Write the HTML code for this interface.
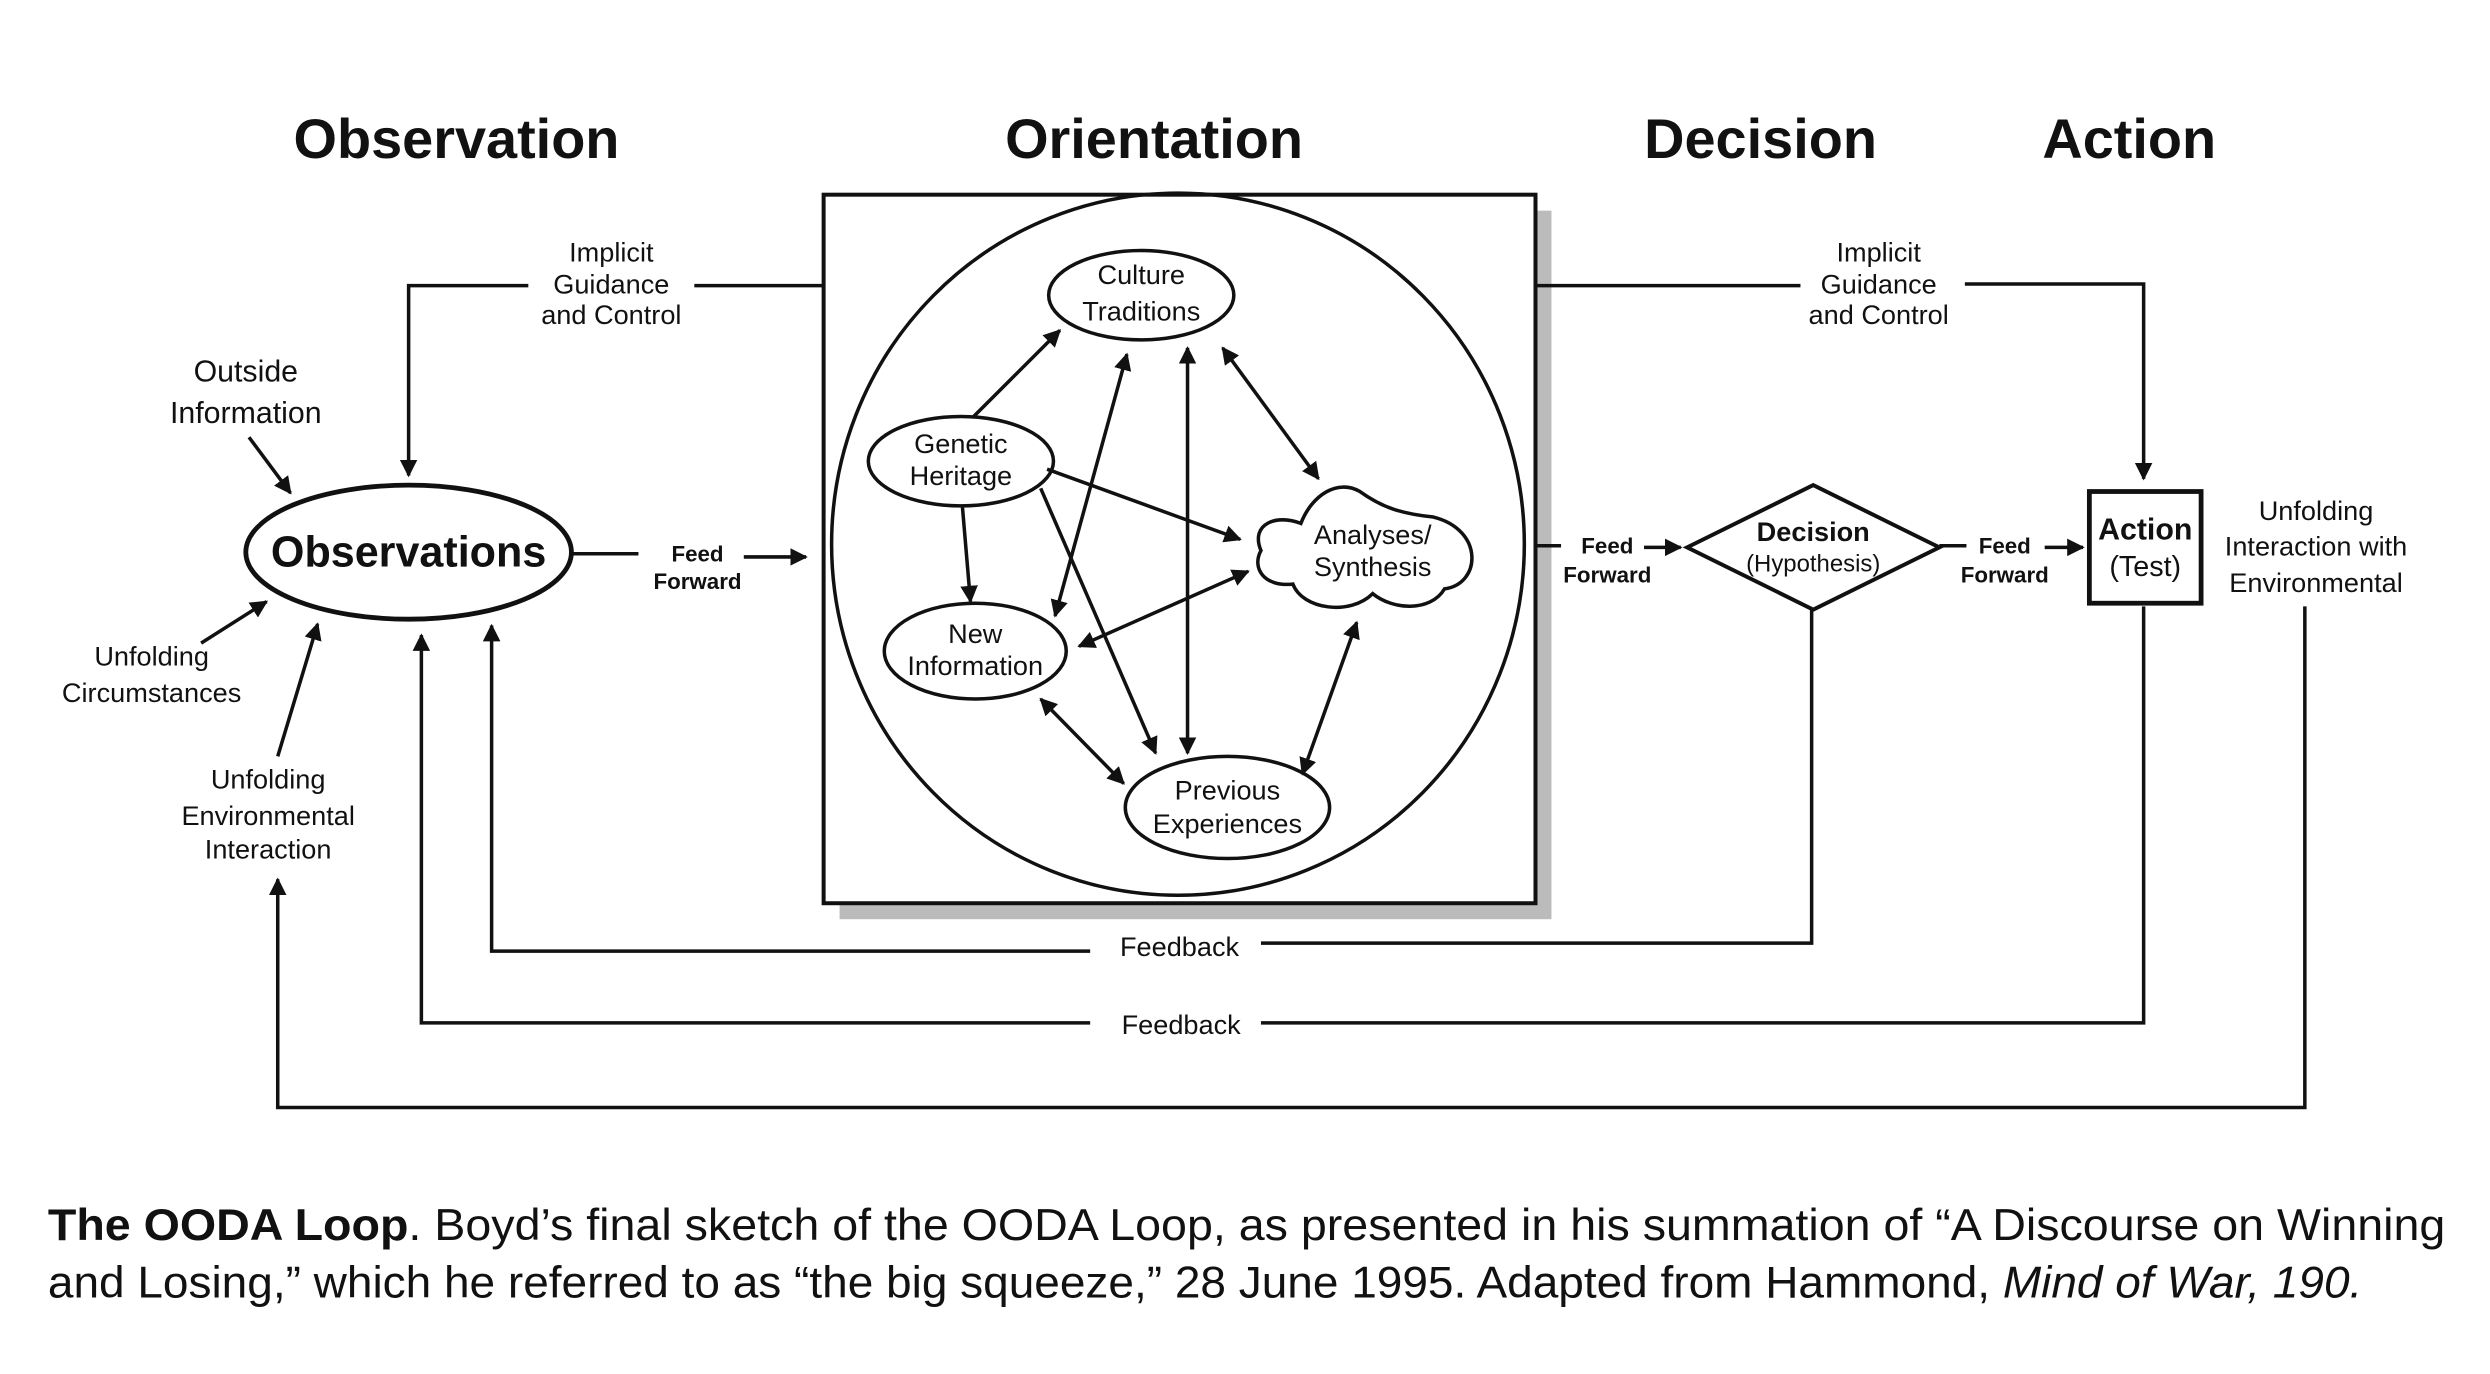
<!DOCTYPE html>
<html><head><meta charset="utf-8"><style>
html,body{margin:0;padding:0;background:#fff;}
svg{display:block;}
text{font-family:"Liberation Sans",sans-serif;fill:#111;}
</style></head><body>
<svg width="2490" height="1374" viewBox="0 0 1560 861" preserveAspectRatio="none" xmlns="http://www.w3.org/2000/svg">
<defs>
<marker id="a" viewBox="0 0 10 10" refX="9" refY="5" markerWidth="5" markerHeight="5" orient="auto-start-reverse" markerUnits="strokeWidth"><path d="M0,0 L10,5 L0,10 Z" fill="#111"/></marker>
</defs>
<g font-weight="bold" font-size="35" text-anchor="middle">
<text x="286" y="99">Observation</text>
<text x="723" y="99">Orientation</text>
<text x="1103" y="99">Decision</text>
<text x="1334" y="99">Action</text>
</g>
<!-- orientation box -->
<rect x="526" y="132" width="446" height="444" fill="#bbb"/>
<rect x="516" y="122" width="446" height="444" fill="#fff" stroke="#111" stroke-width="2.5"/>
<ellipse cx="738" cy="341" rx="217" ry="220" fill="none" stroke="#111" stroke-width="2.2"/>
<g fill="#fff" stroke="#111" stroke-width="2.2">
<ellipse cx="715" cy="185" rx="58" ry="28"/>
<ellipse cx="602" cy="289" rx="58" ry="28"/>
<ellipse cx="611" cy="408" rx="57" ry="30"/>
<ellipse cx="769" cy="506" rx="64" ry="32"/>
<path d="M790,345 C783,328 800,322 815,328 C822,310 838,300 852,308 C866,318 878,322 898,324 C930,332 928,366 905,369 C896,384 872,382 860,372 C846,386 816,382 810,366 C792,368 784,356 790,345 Z"/>
</g>
<g font-size="17" text-anchor="middle">
<text x="715" y="178">Culture</text><text x="715" y="201">Traditions</text>
<text x="602" y="284">Genetic</text><text x="602" y="304">Heritage</text>
<text x="611" y="403">New</text><text x="611" y="423">Information</text>
<text x="769" y="501">Previous</text><text x="769" y="522">Experiences</text>
<text x="860" y="341">Analyses/</text><text x="860" y="361">Synthesis</text>
</g>
<g stroke="#111" stroke-width="2.2" fill="none" marker-end="url(#a)">
<line x1="610" y1="261" x2="664" y2="207"/>
<line x1="603" y1="318" x2="608" y2="377"/>
<line x1="656" y1="294" x2="777" y2="338"/>
<line x1="652" y1="306" x2="724" y2="472"/>
<line x1="706" y1="222" x2="661" y2="386" marker-start="url(#a)"/>
<line x1="744" y1="218" x2="744" y2="472" marker-start="url(#a)"/>
<line x1="766" y1="218" x2="826" y2="300" marker-start="url(#a)"/>
<line x1="676" y1="405" x2="782" y2="358" marker-start="url(#a)"/>
<line x1="652" y1="438" x2="704" y2="491" marker-start="url(#a)"/>
<line x1="816" y1="485" x2="850" y2="390" marker-start="url(#a)"/>
</g>
<!-- left side -->
<ellipse cx="256" cy="346" rx="102" ry="42" fill="#fff" stroke="#111" stroke-width="3"/>
<text x="256" y="355" font-size="27" font-weight="bold" text-anchor="middle">Observations</text>
<g stroke="#111" stroke-width="2.2" fill="none">
<polyline points="516,179 435,179"/>
<polyline points="331,179 256,179 256,298" marker-end="url(#a)"/>
<line x1="156" y1="274" x2="182" y2="309" marker-end="url(#a)"/>
<line x1="126" y1="403" x2="167" y2="377" marker-end="url(#a)"/>
<line x1="174" y1="474" x2="199" y2="391" marker-end="url(#a)"/>
<line x1="358" y1="347" x2="400" y2="347"/>
<line x1="466" y1="349" x2="505" y2="349" marker-end="url(#a)"/>
<polyline points="1135,382 1135,591 790,591"/>
<polyline points="683,596 308,596 308,392" marker-end="url(#a)"/>
<polyline points="1343,380 1343,641 790,641"/>
<polyline points="683,641 264,641 264,398" marker-end="url(#a)"/>
<polyline points="1444,380 1444,694 174,694 174,551" marker-end="url(#a)"/>
<polyline points="962,179 1128,179"/>
<polyline points="1231,178 1343,178 1343,300" marker-end="url(#a)"/>
<line x1="962" y1="342" x2="978" y2="342"/>
<line x1="1030" y1="343" x2="1053" y2="343" marker-end="url(#a)"/>
<line x1="1215" y1="342" x2="1232" y2="342"/>
<line x1="1281" y1="343" x2="1305" y2="343" marker-end="url(#a)"/>
</g>
<g font-size="17" text-anchor="middle">
<text x="383" y="164">Implicit</text><text x="383" y="184">Guidance</text><text x="383" y="203">and Control</text>
<text x="1177" y="164">Implicit</text><text x="1177" y="184">Guidance</text><text x="1177" y="203">and Control</text>
<text x="154" y="239" font-size="19">Outside</text><text x="154" y="265" font-size="19">Information</text>
<text x="95" y="417">Unfolding</text><text x="95" y="440">Circumstances</text>
<text x="168" y="494">Unfolding</text><text x="168" y="517">Environmental</text><text x="168" y="538">Interaction</text>
<text x="739" y="599">Feedback</text>
<text x="740" y="648">Feedback</text>
<text x="1451" y="326">Unfolding</text><text x="1451" y="348">Interaction with</text><text x="1451" y="371">Environmental</text>
</g>
<g font-size="14" font-weight="bold" text-anchor="middle">
<text x="437" y="352">Feed</text><text x="437" y="369">Forward</text>
<text x="1007" y="347">Feed</text><text x="1007" y="365">Forward</text>
<text x="1256" y="347">Feed</text><text x="1256" y="365">Forward</text>
</g>
<polygon points="1057,343 1136,304 1215,343 1136,382" fill="#fff" stroke="#111" stroke-width="2.5"/>
<text x="1136" y="339" font-size="17" font-weight="bold" text-anchor="middle">Decision</text>
<text x="1136" y="358" font-size="15" text-anchor="middle">(Hypothesis)</text>
<rect x="1309" y="308" width="70" height="70" fill="#fff" stroke="#111" stroke-width="3"/>
<text x="1344" y="338" font-size="19" font-weight="bold" text-anchor="middle">Action</text>
<text x="1344" y="361" font-size="18" text-anchor="middle">(Test)</text>
<!-- caption -->
<text x="30" y="777" font-size="28" textLength="1502" lengthAdjust="spacingAndGlyphs"><tspan font-weight="bold">The OODA Loop</tspan>. Boyd’s final sketch of the OODA Loop, as presented in his summation of “A Discourse on Winning</text>
<text x="30" y="813" font-size="28" textLength="1450" lengthAdjust="spacingAndGlyphs">and Losing,” which he referred to as “the big squeeze,” 28 June 1995. Adapted from Hammond, <tspan font-style="italic">Mind of War, 190.</tspan></text>
</svg>
</body></html>
